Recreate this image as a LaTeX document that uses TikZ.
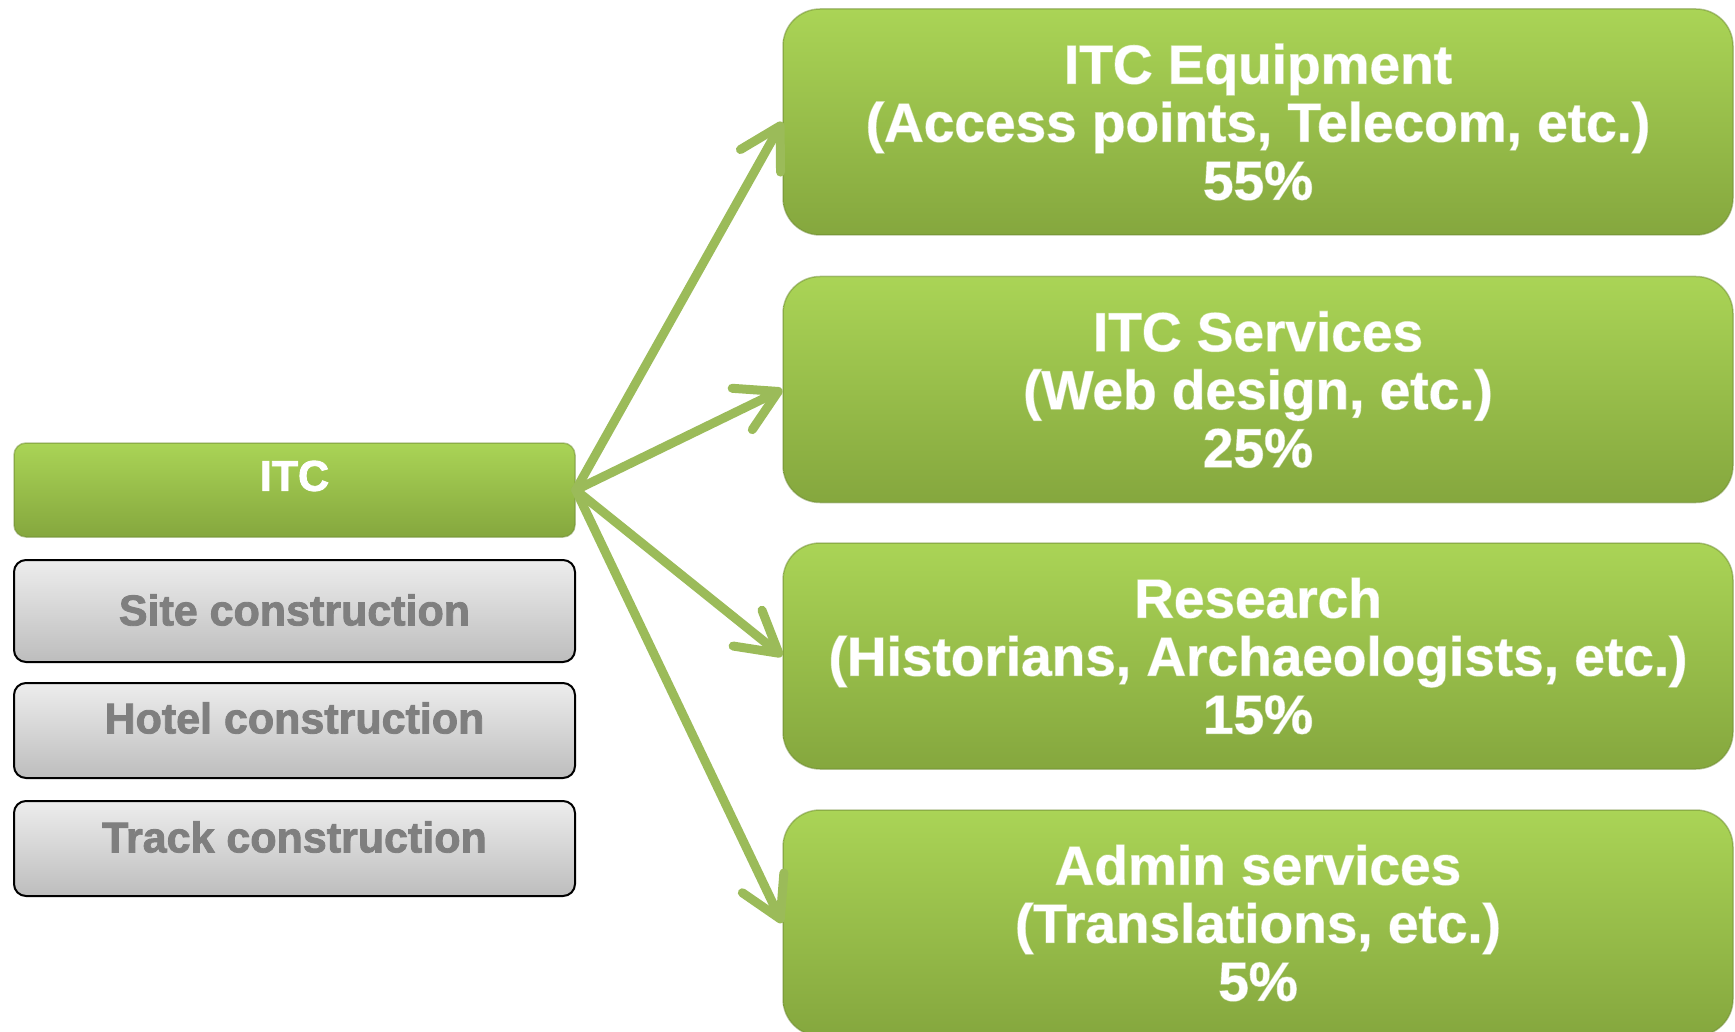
\documentclass[tikz,border=0pt]{standalone}
\usepackage{fontspec}
\setmainfont{Liberation Sans}[BoldFeatures={FakeBold=2}]
\usetikzlibrary{arrows.meta}
\definecolor{gtop}{HTML}{AAD456}
\definecolor{gbot}{HTML}{85A73E}
\definecolor{gedge}{HTML}{6F8C33}
\definecolor{arrowgreen}{HTML}{9BBB59}
\definecolor{greytop}{HTML}{EDEDED}
\definecolor{greybot}{HTML}{BDBDBD}
\definecolor{greytext}{HTML}{7F7F7F}
\begin{document}
\begin{tikzpicture}[x=1pt,y=-1pt,
  bigbox/.style={rounded corners=37pt, top color=gtop, bottom color=gbot,
    draw=gedge, draw opacity=0.5, line width=1.5pt,
    minimum width=950pt, minimum height=226pt, inner sep=0pt,
    text=white, font=\fontsize{55}{58}\selectfont\bfseries, align=center},
  leftbox/.style={rounded corners=12pt, minimum width=561pt, inner sep=0pt},
  itcbox/.style={leftbox, top color=gtop, bottom color=gbot,
    draw=gedge, draw opacity=0.5, line width=1.5pt},
  greybox/.style={leftbox, top color=greytop, bottom color=greybot,
    draw=black, line width=2pt},
  lefttext/.style={inner sep=0pt, font=\fontsize{43}{48}\selectfont\bfseries},
  arr/.style={draw=arrowgreen, line width=9pt, line cap=round,
    -{Straight Barb[length=40pt, width=46pt, round]}}
]
\useasboundingbox (0,0) rectangle (1735,1032);
\fill[white] (0,0) rectangle (1735,1032);
\clip (0,0) rectangle (1735,1032);

% left column
\node[itcbox, minimum height=94pt] (itc) at (294.5,490) {};
\node[greybox, minimum height=102pt] (site) at (294.5,611) {};
\node[greybox, minimum height=95pt] (hotel) at (294.5,730.5) {};
\node[greybox, minimum height=95pt] (track) at (294.5,848.5) {};
\node[lefttext, text=white] (itct) at (294.5,476) {ITC};
\node[lefttext, text=greytext] (sitet) at (294.5,610) {Site construction};
\node[lefttext, text=greytext] (hotelt) at (294.5,718) {Hotel construction};
\node[lefttext, text=greytext] (trackt) at (294.5,837) {Track construction};

% right column
\node[bigbox] (b1) at (1258,122) {ITC Equipment\\(Access points, Telecom, etc.)\\55\%};
\node[bigbox] (b2) at (1258,389.5) {ITC Services\\(Web design, etc.)\\25\%};
\node[bigbox] (b3) at (1258,656) {Research\\(Historians, Archaeologists, etc.)\\15\%};
\node[bigbox] (b4) at (1258,923) {Admin services\\(Translations, etc.)\\5\%};

% connectors
\draw[arr] (itc.east) -- (b1.west);
\draw[arr] (itc.east) -- (b2.west);
\draw[arr] (itc.east) -- (b3.west);
\draw[arr] (itc.east) -- (b4.west);
\end{tikzpicture}
\end{document}
